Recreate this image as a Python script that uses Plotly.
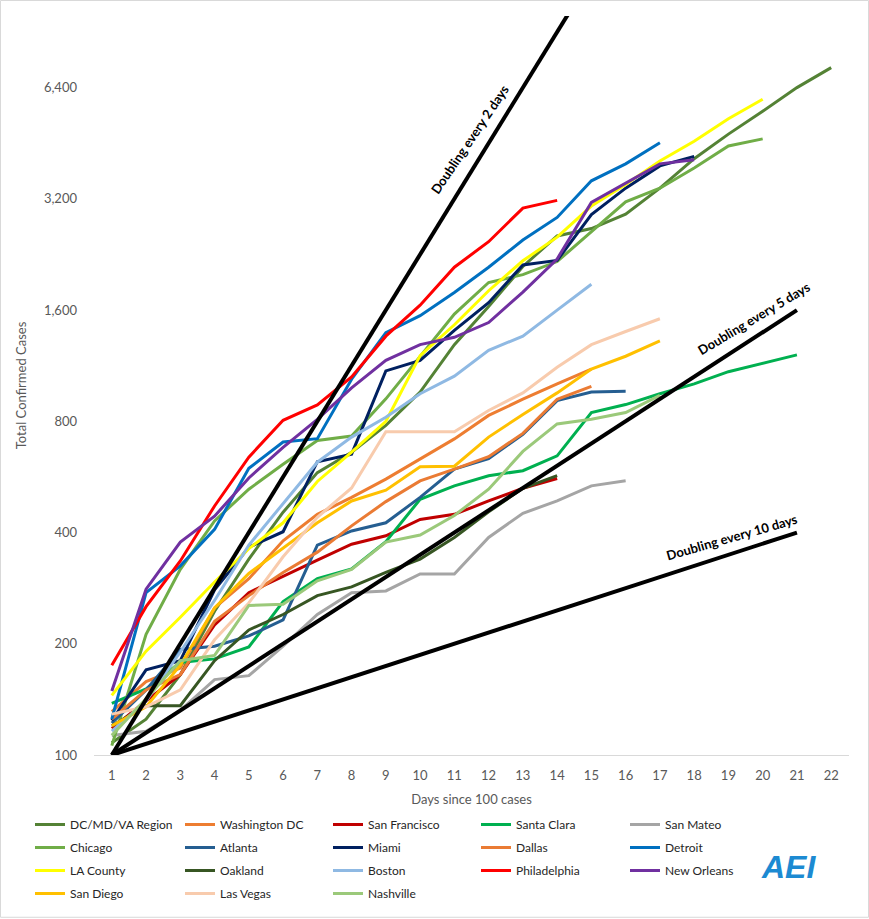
import plotly.graph_objects as go
import math

days_axis = list(range(1, 23))
y_tick_vals = [100, 200, 400, 800, 1600, 3200, 6400]
y_tick_text = ["100", "200", "400", "800", "1,600", "3,200", "6,400"]

series_names = ["DC/MD/VA Region", "Washington DC", "San Francisco", "Santa Clara", "San Mateo",
                "Chicago", "Atlanta", "Miami", "Dallas", "Detroit",
                "LA County", "Oakland", "Boston", "Philadelphia", "New Orleans",
                "San Diego", "Las Vegas", "Nashville"]

dc_mdva = [108, 125, 165, 245, 339, 454, 581, 660, 780, 960, 1290, 1635, 2100, 2540, 2660, 2910, 3420, 4110, 4790, 5520, 6400, 7250]
washington_dc = [131, 158, 172, 250, 300, 380, 448, 498, 558, 632, 717, 830, 918, 1010, 1108]
san_francisco = [118, 140, 165, 225, 275, 305, 337, 372, 392, 434, 448, 487, 527, 560]
santa_clara = [138, 151, 178, 182, 196, 260, 300, 319, 378, 492, 535, 570, 588, 645, 845, 888, 950, 1010, 1090, 1150, 1210]
san_mateo = [113, 116, 132, 160, 164, 197, 240, 275, 278, 309, 309, 388, 451, 487, 535, 552]
chicago = [106, 212, 318, 430, 524, 612, 710, 730, 920, 1200, 1560, 1900, 1995, 2165, 2600, 3140, 3420, 3880, 4450, 4650]
atlanta = [122, 150, 193, 197, 210, 232, 370, 404, 425, 498, 594, 634, 738, 910, 960, 965]
miami = [124, 170, 180, 280, 365, 402, 622, 652, 1095, 1170, 1410, 1675, 2120, 2180, 2900, 3420, 3930, 4170]
dallas = [125, 150, 165, 230, 270, 312, 354, 417, 485, 552, 594, 642, 742, 918, 995]
detroit = [125, 275, 325, 408, 597, 703, 718, 1040, 1390, 1545, 1785, 2090, 2475, 2850, 3580, 3980, 4540]
la_county = [145, 191, 236, 294, 362, 425, 550, 660, 800, 1205, 1460, 1805, 2175, 2520, 3060, 3500, 4050, 4580, 5270, 5950]
oakland = [120, 136, 136, 180, 218, 240, 270, 285, 312, 339, 388, 455, 527, 570]
boston = [116, 140, 190, 262, 370, 478, 620, 725, 820, 950, 1060, 1245, 1360, 1600, 1880]
philadelphia = [175, 252, 335, 472, 640, 805, 886, 1055, 1360, 1650, 2090, 2450, 3020, 3170]
new_orleans = [149, 281, 377, 443, 562, 680, 810, 985, 1170, 1290, 1350, 1480, 1790, 2200, 3130, 3530, 3980, 4080]
san_diego = [120, 135, 175, 250, 310, 364, 425, 487, 521, 603, 605, 725, 835, 955, 1108, 1200, 1320]
las_vegas = [129, 135, 150, 205, 258, 344, 440, 528, 750, 750, 750, 856, 955, 1120, 1290, 1400, 1516]
nashville = [113, 142, 180, 186, 254, 256, 296, 318, 377, 394, 445, 524, 663, 787, 810, 845, 940]

series_values = [dc_mdva, washington_dc, san_francisco, santa_clara, san_mateo,
                 chicago, atlanta, miami, dallas, detroit,
                 la_county, oakland, boston, philadelphia, new_orleans,
                 san_diego, las_vegas, nashville]

series_colors = ["#548235", "#ED7D31", "#C00000", "#00B050", "#A5A5A5",
                 "#70AD47", "#255E91", "#002060", "#EA7B34", "#0070C0",
                 "#FFFF00", "#375623", "#8FB9E3", "#FF0000", "#7030A0",
                 "#FFC000", "#F8CBAD", "#9BC97A"]

# reference doubling lines
doubling_periods = [2, 5, 10]
doubling_end_day = [15, 21, 21]
doubling_labels = ["Doubling every 2 days", "Doubling every 5 days", "Doubling every 10 days"]
label_day = [11.46, 19.76, 19.1]
label_cases = [4637, 1520, 390]
label_angle = [-56, -31, -16]
base_cases = 100

FONT = "Lato, 'Open Sans', sans-serif"
fig = go.Figure()

ncols = 5
for i, (name, vals, col) in enumerate(zip(series_names, series_values, series_colors)):
    legend_id = "legend" if i % ncols == 0 else f"legend{i % ncols + 1}"
    fig.add_trace(go.Scatter(
        x=days_axis[:len(vals)], y=vals, mode="lines", name=name,
        line=dict(color=col, width=3), legend=legend_id, legendgroup=name,
        hoverinfo="x+y+name"))

for per, end in zip(doubling_periods, doubling_end_day):
    xs = [1, end]
    ys = [base_cases * 2 ** ((d - 1) / per) for d in xs]
    fig.add_trace(go.Scatter(x=xs, y=ys, mode="lines", showlegend=False,
                             line=dict(color="black", width=4), hoverinfo="skip"))

# layout geometry (px)
W, H = 869, 919
ml, mr, mt, mb = 94, 20, 16, 163
pw, ph = W - ml - mr, H - mt - mb

def px_x(p):
    return (p - ml) / pw

def px_y(p):
    return (H - mb - p) / ph

legend_lefts = [30, 180, 328, 476, 625]
legend_cfg = {}
for k, L in enumerate(legend_lefts):
    key = "legend" if k == 0 else f"legend{k+1}"
    legend_cfg[key] = dict(x=px_x(L), y=px_y(810), xanchor="left", yanchor="top",
                           orientation="v", font=dict(family=FONT, size=12, color="#262626"),
                           bgcolor="rgba(0,0,0,0)", tracegroupgap=4, traceorder="grouped")

annotations = [
    dict(x=d, y=math.log10(c), text=f"<b>{t}</b>", textangle=a, showarrow=False,
         font=dict(family=FONT, size=13, color="black"))
    for d, c, t, a in zip(label_day, label_cases, doubling_labels, label_angle)
]
annotations.append(dict(xref="paper", yref="paper", x=px_x(818), y=px_y(888), text="<b><i>AEI</i></b>",
                        showarrow=False, font=dict(family="Liberation Sans, sans-serif", size=32, color="#1C8AD2")))

fig.update_layout(
    width=W, height=H,
    margin=dict(l=ml, r=mr, t=mt, b=mb),
    paper_bgcolor="white", plot_bgcolor="white",
    font=dict(family=FONT, size=13, color="#595959"),
    xaxis=dict(range=[0.48, 22.52], tickvals=days_axis, showgrid=False, zeroline=False,
               showline=True, linecolor="#D9D9D9", linewidth=1, ticks="",
               ticklabelstandoff=8,
               tickfont=dict(family=FONT, size=13, color="#595959"),
               title=dict(text="Days since 100 cases", standoff=13,
                          font=dict(family=FONT, size=13, color="#595959"))),
    yaxis=dict(type="log", range=[2, 4], tickvals=y_tick_vals, ticktext=y_tick_text,
               showgrid=False, zeroline=False, showline=False, ticks="",
               ticklabelstandoff=16,
               tickfont=dict(family=FONT, size=13, color="#595959"),
               title=dict(text="Total Confirmed Cases", standoff=14,
                          font=dict(family=FONT, size=13, color="#595959"))),
    annotations=annotations,
    shapes=[dict(type="rect", xref="paper", yref="paper",
                 x0=px_x(0.5), x1=px_x(868.5), y0=px_y(918.5), y1=px_y(0.5),
                 line=dict(color="#D9D9D9", width=1), layer="below")],
    **legend_cfg,
)

fig.write_html("out.html", config={"displayModeBar": False},
               post_script="document.body.style.margin='0';document.body.style.padding='0';")
